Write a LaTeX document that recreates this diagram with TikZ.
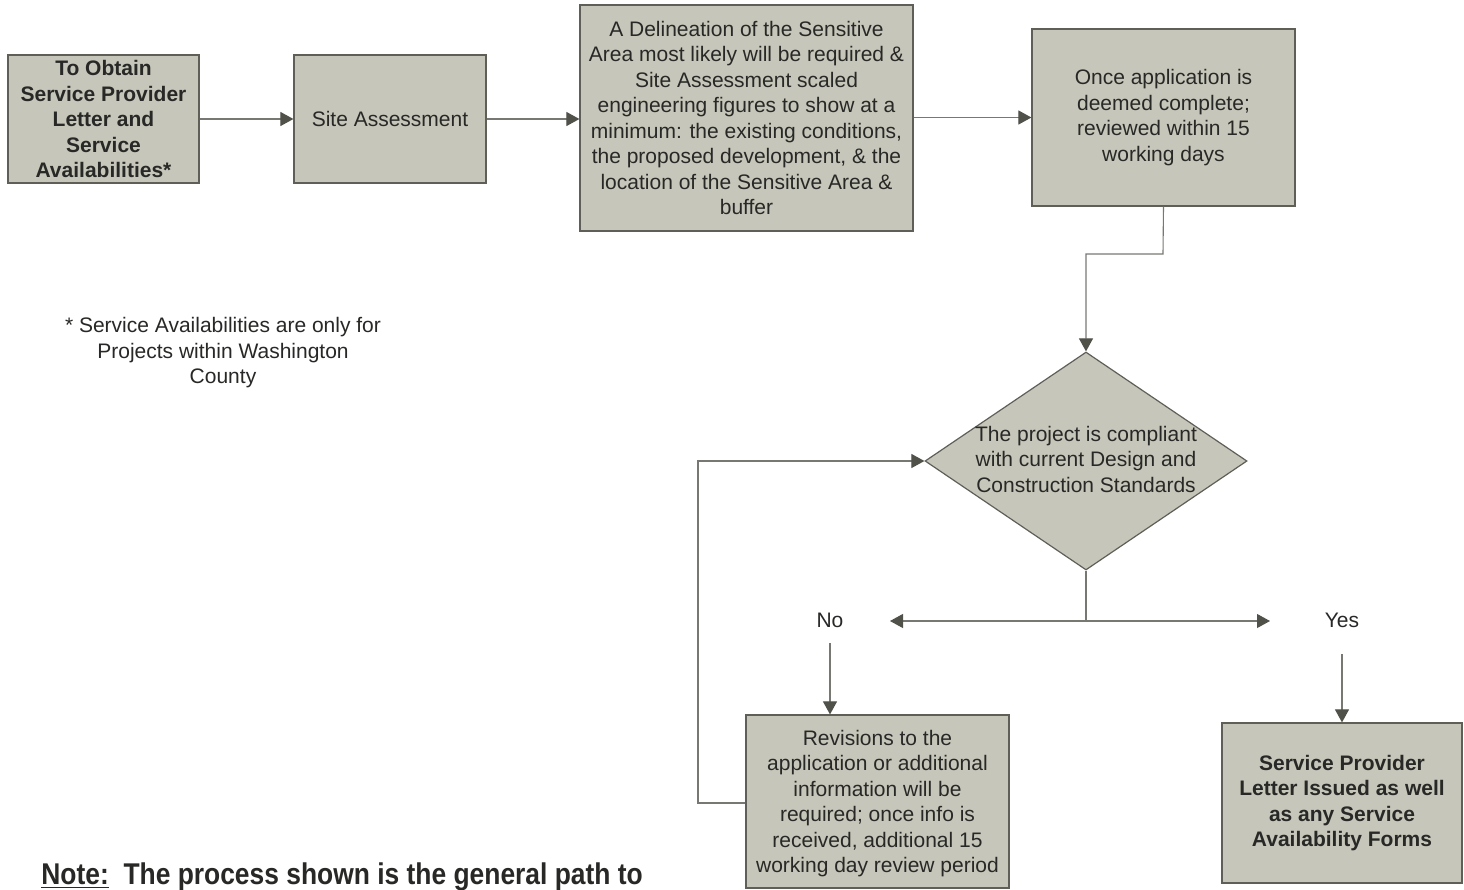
\documentclass[tikz,border=0pt]{standalone}
\usepackage{fontspec}
\setmainfont{Liberation Sans}
\newfontfamily\narrowfont[FakeStretch=0.88]{Liberation Sans}
\usetikzlibrary{shapes.geometric,arrows.meta}
\definecolor{boxfill}{RGB}{198,198,186}
\definecolor{boxline}{RGB}{95,95,88}
\definecolor{txt}{RGB}{40,40,38}
\definecolor{conn}{RGB}{120,120,115}
\definecolor{tipc}{RGB}{80,82,74}
\tikzset{
  box/.style={draw=boxline, fill=boxfill, line width=0.6pt, inner sep=0pt, align=center,
    text=txt, font=\fontsize{10.5}{12.75}\selectfont},
  bbox/.style={box, font=\fontsize{10.5}{12.75}\selectfont\bfseries},
  dia/.style={draw=boxline, fill=boxfill, line width=0.6pt, diamond, inner sep=0pt},
  lbl/.style={align=center, text=txt, font=\fontsize{10.5}{12.75}\selectfont, inner sep=0pt},
  conn/.style={draw=conn, line width=0.55pt},
  arr/.style={conn, -{Triangle[length=6.5pt,width=7pt,fill=tipc,color=tipc]}},
  darr/.style={conn, {Triangle[length=6.5pt,width=7pt,fill=tipc,color=tipc]}-{Triangle[length=6.5pt,width=7pt,fill=tipc,color=tipc]}}
}
\begin{document}
\begin{tikzpicture}[x=0.5pt,y=-0.5pt]
\useasboundingbox (0,0) rectangle (1464,890);
\fill[white] (0,0) rectangle (1464,890);

\node[bbox, minimum width=95.5pt, minimum height=64pt] (obtain) at (103.5,119)
  {To Obtain\\Service Provider\\Letter and\\Service\\Availabilities*};
\node[box, minimum width=96pt, minimum height=64pt] (site) at (390,119) {Site Assessment};
\node[box, minimum width=166.5pt, minimum height=113pt] (delin) at (746.5,118)
  {A Delineation of the Sensitive\\Area most likely will be required \&\\Site Assessment scaled\\engineering figures to show at a\\minimum: the existing conditions,\\the proposed development, \& the\\location of the Sensitive Area \&\\buffer};
\node[box, minimum width=131.5pt, minimum height=88.5pt] (once) at (1163.5,117.5)
  {Once application is\\deemed complete;\\reviewed within 15\\working days};

\node[dia, minimum width=161pt, minimum height=109pt] (comp) at (1086,461) {};
\node[lbl] (comptext) at (1086,459) {The project is compliant\\with current Design and\\Construction Standards};

\node[box, minimum width=131.5pt, minimum height=86.5pt] (rev) at (877.5,801.5)
  {\\[-3pt]Revisions to the\\application or additional\\information will be\\required; once info is\\received, additional 15\\working day review period};
\node[bbox, minimum width=120pt, minimum height=80pt] (issued) at (1342,803)
  {Service Provider\\Letter Issued as well\\as any Service\\Availability Forms};

\node[lbl] (no) at (830,620) {No};
\node[lbl] (yes) at (1342,620) {Yes};

\node[lbl] (foot) at (223,353) {* Service Availabilities are only for\\Projects within Washington\\County};

\node[anchor=base west, inner sep=0pt, text=txt, font=\narrowfont\fontsize{15}{18}\selectfont\bfseries] (note) at (41,884)
  {\underline{Note:}\ \ The process shown is the general path to};

% connectors
\draw[arr] (obtain.east) -- (site.west);
\draw[arr] (site.east) -- (delin.west |- site.east);
\draw[arr] (delin.east |- once.west) -- (once.west);
\coordinate (bend1) at (1163,254);
\coordinate (bend2) at (1086,254);
\draw[arr] (once.south) -- (bend1) -- (bend2) -- (comp.north);
\coordinate (junc) at (1086,621);
\coordinate (leftend) at (890,621);
\coordinate (rightend) at (1270,621);
\draw[conn] (comp.south) -- (junc);
\draw[darr] (leftend) -- (rightend);
\coordinate (nostart) at (830,643);
\coordinate (yesstart) at (1342,654);
\draw[arr] (nostart) -- (rev.north -| nostart);
\draw[arr] (yesstart) -- (issued.north);
\coordinate (back1) at (698,803);
\coordinate (back2) at (698,461);
\draw[arr] (rev.west |- back1) -- (back1) -- (back2) -- (comp.west);
\end{tikzpicture}
\end{document}
